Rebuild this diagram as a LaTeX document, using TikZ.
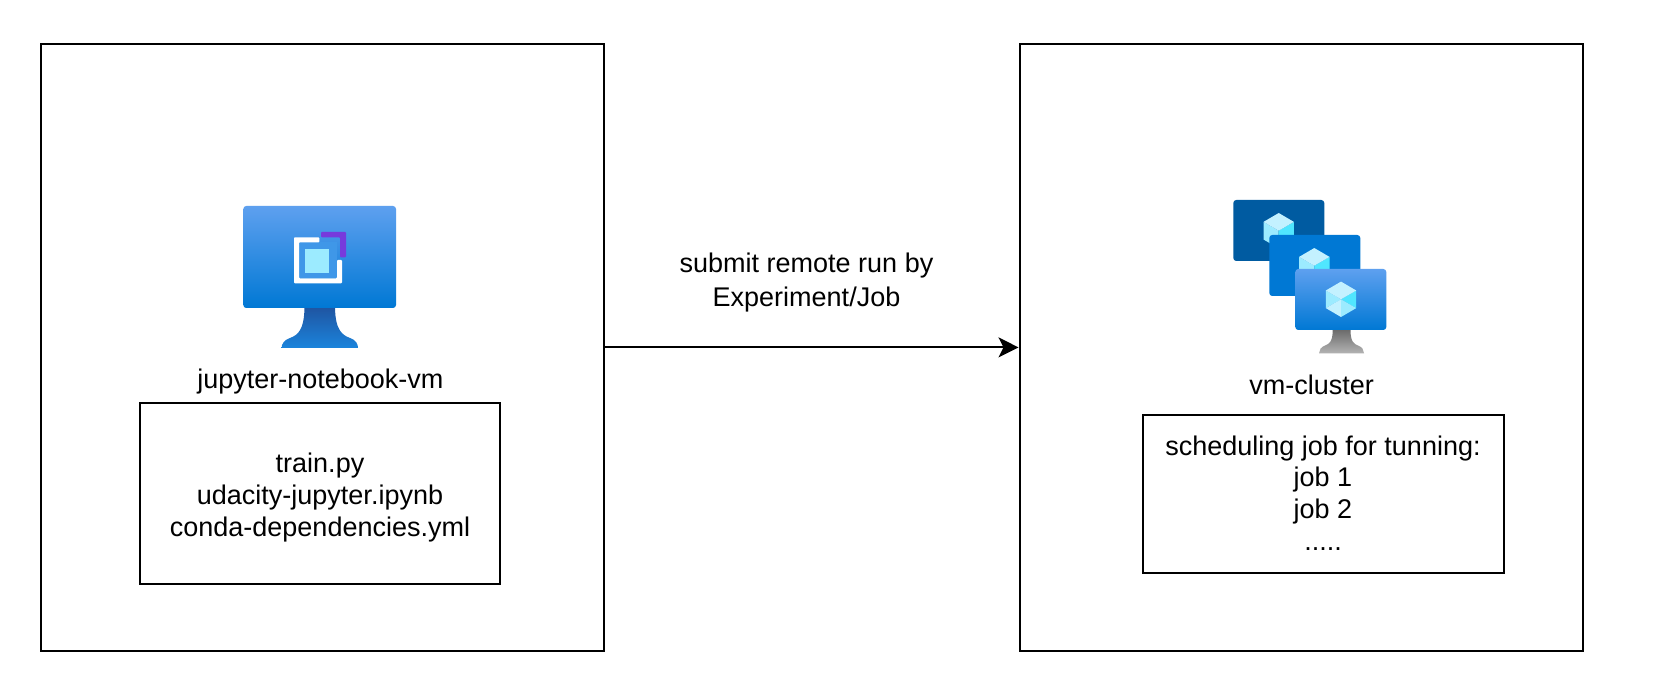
\documentclass[tikz,border=0pt]{standalone}
\usepackage{fontspec}
\setmainfont{Liberation Sans}
\usetikzlibrary{arrows.meta}
\definecolor{topblue}{HTML}{5EA0EF}
\definecolor{botblue}{HTML}{0078D4}
\definecolor{stemtop}{HTML}{1F56A3}
\definecolor{stembot}{HTML}{1B84DC}
\definecolor{darkscr}{HTML}{005BA1}
\definecolor{cubetop}{HTML}{C3F1FF}
\definecolor{cubel}{HTML}{9CEBFF}
\definecolor{cuber}{HTML}{50E6FF}
\definecolor{innerblue}{HTML}{3F97E8}
\definecolor{purp}{HTML}{773ADC}
\tikzset{
  px/.style={x=0.6pt,y=-0.6pt},
  box/.style={draw=black,line width=1.2pt,fill=white,rectangle,inner sep=0pt},
  lab/.style={font=\fontsize{16.2pt}{19pt}\selectfont,align=center,text=black},
  screen/.style={rounded corners=1.8pt},
}
\newcommand{\cubeat}[2]{%
  \begin{scope}[shift={(#1,#2)}]
    \fill[cubel] (-15.2,-8.8) -- (0,0) -- (0,17.7) -- (-15.2,8.8) -- cycle;
    \fill[cuber] (15.2,-8.8) -- (0,0) -- (0,17.7) -- (15.2,8.8) -- cycle;
    \fill[cubetop] (0,-17.7) -- (15.2,-8.8) -- (0,0) -- (-15.2,-8.8) -- cycle;
  \end{scope}}
\newcommand{\frontcube}[2]{%
  \begin{scope}[shift={(#1,#2)}]
    \fill[cubel] (-15.2,-8.8) -- (0,0) -- (-15.2,8.8) -- cycle;
    \fill[cuber] (15.2,-8.8) -- (0,0) -- (15.2,8.8) -- cycle;
    \fill[cubetop] (0,-17.7) -- (15.2,-8.8) -- (0,0) -- (-15.2,-8.8) -- cycle;
    \fill[cubetop] (-15.2,8.8) -- (0,0) -- (0,17.7) -- cycle;
    \fill[cubel] (15.2,8.8) -- (0,0) -- (0,17.7) -- cycle;
  \end{scope}}
\begin{document}
\begin{tikzpicture}[px]
\useasboundingbox (0,0) rectangle (1660,683);
\fill[white] (0,0) rectangle (1660,683);
\node[box,minimum width=337.8pt,minimum height=364.4pt] (left) at (322.3,347.4) {};
\node[box,minimum width=337.8pt,minimum height=364.4pt] (right) at (1301,347.4) {};
\node[box,minimum width=216.2pt,minimum height=108.4pt] (files) at (319.8,493.3) {};
\node[box,minimum width=216.6pt,minimum height=94.8pt] (jobs) at (1323.5,493.6) {};
\node[lab] (filestext) at (320,497.5) {train.py\\udacity-jupyter.ipynb\\conda-dependencies.yml};
\node[lab] (jobstext) at (1323,493) {scheduling job for tunning:\\job 1\\job 2\\.....};
\node[lab] (vmname) at (320.4,382) {jupyter-notebook-vm};
\node[lab] (clname) at (1311.6,385) {vm-cluster};
\node[lab,font=\fontsize{16.2pt}{20pt}\selectfont] (runlabel) at (806.5,282.5) {submit remote run by\\Experiment/Job};
\draw[line width=1.2pt,-{Stealth[length=12pt,width=12pt,inset=3pt]}] (left.east) -- (right.west);
% VM icon, left
\shade[top color=stemtop,bottom color=stembot] (304.5,308) -- (335,308) .. controls (335.5,330) and (342,335) .. (350,338) .. controls (356,340) and (358,344) .. (358,348) -- (281.6,348) .. controls (281.6,344) and (284,340) .. (290,338) .. controls (298,335) and (304,330) .. (304.5,308) -- cycle;
\shade[screen,top color=topblue,bottom color=botblue] (243.3,206) rectangle (396,308);
\fill[innerblue] (299,242.3) rectangle (337,278.3);
\fill[white,rounded corners=0.5pt] (294,237.3) -- (319.3,237.3) -- (319.3,242.3) -- (299,242.3) -- (299,278.3) -- (337,278.3) -- (337,260) -- (342,260) -- (342,283.3) -- (294,283.3) -- cycle;
\fill[cubel] (305.3,248.7) rectangle (329.3,272.7);
\fill[purp,rounded corners=0.5pt] (321,232) -- (346,232) -- (346,257.3) -- (340,257.3) -- (340,237.3) -- (321,237.3) -- cycle;
% VM cluster icon, right
\fill[screen,darkscr] (1233.3,200) rectangle (1324.3,261);
\cubeat{1278.7}{230.7}
\fill[screen,botblue] (1269.3,235) rectangle (1360.3,296);
\cubeat{1314.3}{265.7}
\shade[top color=gray!85!black,bottom color=gray!60] (1332.7,330) -- (1350.5,330) .. controls (1350.5,342) and (1354,344) .. (1358,345.5) .. controls (1362,347) and (1364,350) .. (1364,353.3) -- (1319,353.3) .. controls (1319,350) and (1321,347) .. (1325,345.5) .. controls (1329,344) and (1332.7,342) .. (1332.7,330) -- cycle;
\shade[screen,top color=topblue,bottom color=botblue] (1295.3,269) rectangle (1386.3,330);
\frontcube{1341}{299.3}
\end{tikzpicture}
\end{document}
